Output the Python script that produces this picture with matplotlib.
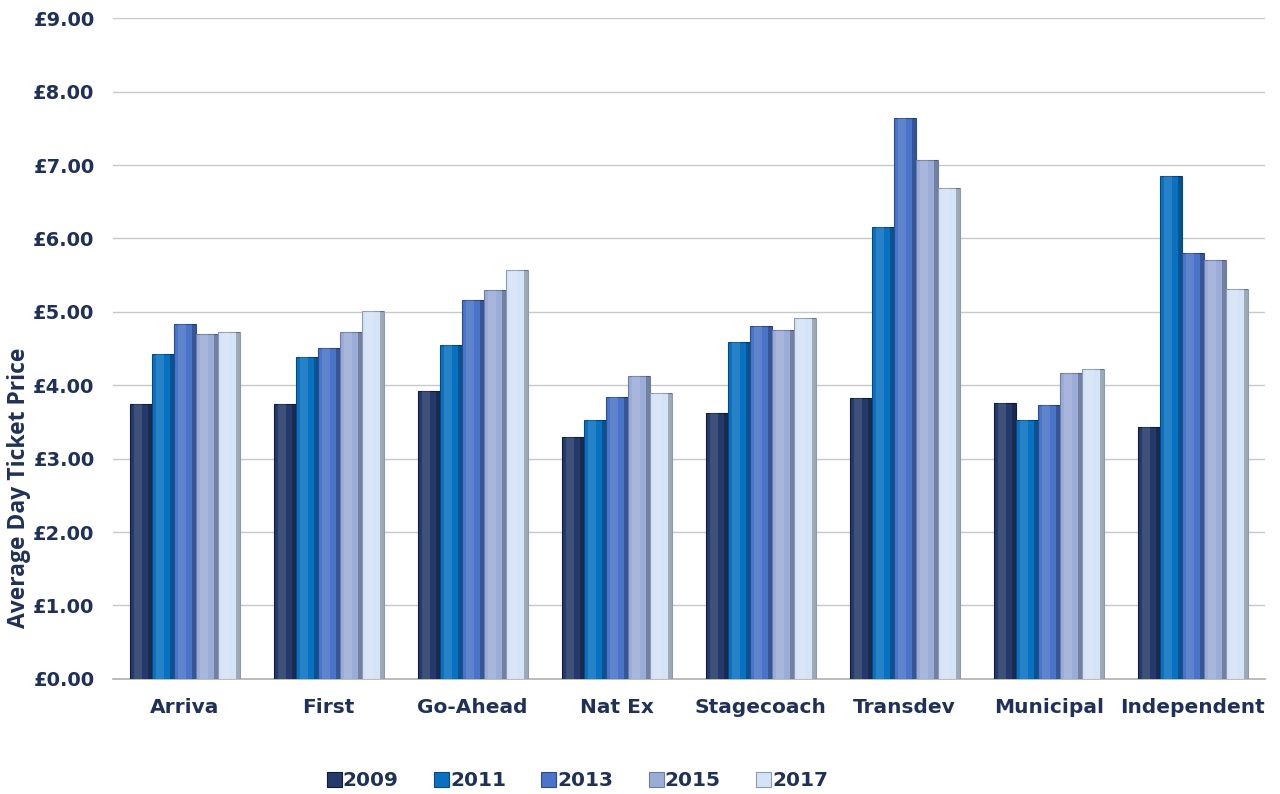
import matplotlib
matplotlib.use("Agg")
import matplotlib.pyplot as plt
import numpy as np

categories = ["Arriva", "First", "Go-Ahead", "Nat Ex", "Stagecoach", "Transdev", "Municipal", "Independent"]
years = ["2009", "2011", "2013", "2015", "2017"]
v2009 = [3.74, 3.74, 3.92, 3.30, 3.62, 3.83, 3.76, 3.43]
v2011 = [4.43, 4.38, 4.55, 3.53, 4.59, 6.15, 3.53, 6.85]
v2013 = [4.83, 4.51, 5.16, 3.84, 4.81, 7.64, 3.73, 5.80]
v2015 = [4.70, 4.72, 5.30, 4.13, 4.75, 7.07, 4.17, 5.71]
v2017 = [4.72, 5.01, 5.57, 3.90, 4.92, 6.69, 4.22, 5.31]
series = [v2009, v2011, v2013, v2015, v2017]
yticks = [0, 1, 2, 3, 4, 5, 6, 7, 8, 9]

colors = ["#233a6a", "#0a70c0", "#4a74c8", "#9cacd8", "#d4e3f6"]
edge = ["#111d38", "#054a80", "#2c4c8c", "#6c7ca8", "#8d9bb0"]
txt = "#1f3158"

fig = plt.figure(figsize=(12.8, 7.94), dpi=100)
ax = fig.add_axes([0.088, 0.145, 0.9, 0.832])

x = np.arange(len(categories))
w = 0.153
for i, (vals, c, ec) in enumerate(zip(series, colors, edge)):
    pos = x + (i - 2) * w
    ax.bar(pos, vals, width=w, color=c, edgecolor=ec, linewidth=0.8, label=years[i], zorder=3)
    # bevel hints: light strip left of centre, dark strip at right edge
    ax.bar(pos - w * 0.12, vals, width=w * 0.35, color="white", alpha=0.12, linewidth=0, zorder=4)
    ax.bar(pos + w * 0.42, vals, width=w * 0.16, color="black", alpha=0.25, linewidth=0, zorder=4)

ax.set_xlim(-0.5, len(categories) - 0.5)
ax.set_ylim(0, 9)
ax.set_yticks(yticks)
ax.set_yticklabels([f"£{t:.2f}" for t in yticks])
ax.set_xticks(x)
ax.set_xticklabels(categories)
for lab in ax.get_yticklabels():
    lab.set_fontweight("bold")
    lab.set_color(txt)
    lab.set_fontsize(14)
for lab in ax.get_xticklabels():
    lab.set_fontweight("bold")
    lab.set_color(txt)
    lab.set_fontsize(14.5)
ax.tick_params(axis="y", length=0, pad=13)
ax.tick_params(axis="x", length=0, pad=14)
ax.grid(axis="y", color="#c8c8c8", linewidth=1.0, zorder=0)
for s in ["top", "right", "left"]:
    ax.spines[s].set_visible(False)
ax.spines["bottom"].set_color("#b0b0b0")
ax.spines["bottom"].set_linewidth(1.2)

fig.text(19 / 1280, 1 - 488 / 794, "Average Day Ticket Price", rotation=90,
         ha="center", va="center", fontsize=16.5, fontweight="bold", color=txt,
         family="Open Sans")

leg = fig.legend(loc="lower center", bbox_to_anchor=(0.451, -0.018), ncol=5, frameon=False,
                 handlelength=0.75, handleheight=0.75, handletextpad=0.05, columnspacing=1.75,
                 prop={"weight": "bold", "size": 14.5})
for t in leg.get_texts():
    t.set_color(txt)

fig.savefig("out.png", dpi=100)
